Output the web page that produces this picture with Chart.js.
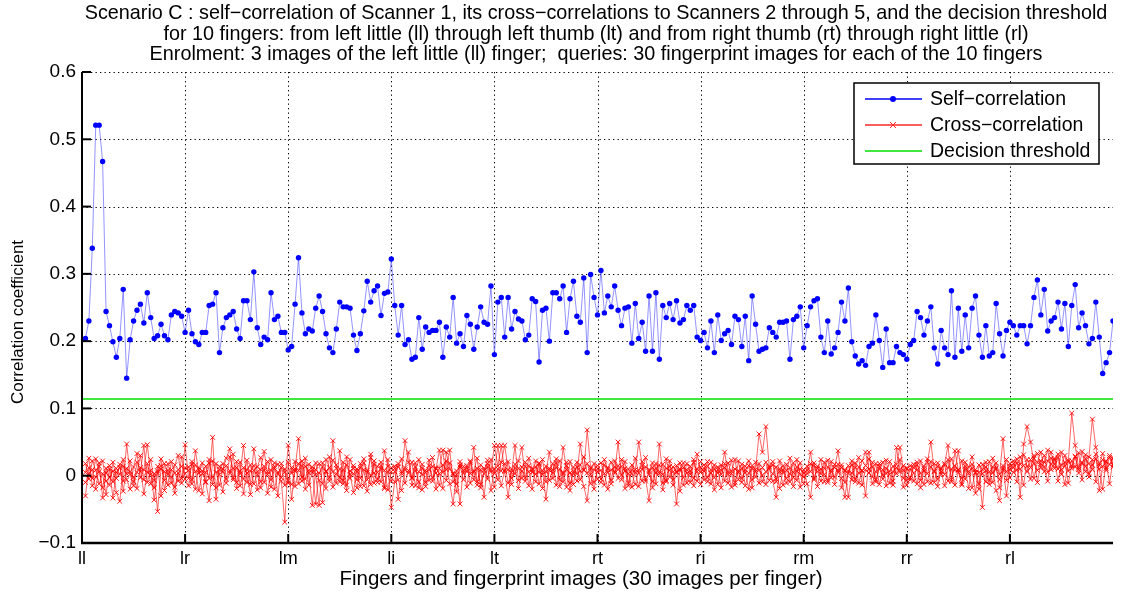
<!DOCTYPE html>
<html>
<head>
<meta charset="utf-8">
<title>Scenario C correlations</title>
<script src="https://cdn.jsdelivr.net/npm/chart.js@4.4.1/dist/chart.umd.min.js"></script>
<style>
  html, body { margin: 0; padding: 0; background: #fff; }
  #wrap { width: 1131px; height: 600px; }
</style>
</head>
<body>
<div id="wrap"><canvas id="c" width="1131" height="600"></canvas></div>
<script>
// Finger labels, one every 30 images
const fingerLabels = ['ll', 'lr', 'lm', 'li', 'lt', 'rt', 'ri', 'rm', 'rr', 'rl'];
const imagesPerFinger = 30;

// All correlation values below are in units of 0.001
const selfCorr = [
  204,230,338,521,521,467,244,223,199,176,204,277,145,202,230,246,255,227,272,235,204,208,225,208,202,239,244,242,237,213,
  246,211,199,195,213,213,253,255,272,183,220,235,239,244,218,204,260,260,232,303,220,195,206,202,272,232,237,213,213,187,
  192,255,324,242,211,218,215,249,267,244,211,190,183,218,258,251,251,249,209,186,211,245,289,258,275,282,238,271,273,322,
  253,209,253,195,202,173,176,235,188,221,213,216,216,228,176,221,206,265,197,211,192,238,225,188,221,251,228,225,282,180,
  258,265,206,265,218,244,233,230,202,209,263,259,169,246,249,200,272,272,263,282,213,263,289,237,228,294,183,299,265,239,
  305,242,267,251,282,246,223,249,251,197,256,204,228,185,267,185,272,173,253,235,256,232,260,227,232,253,246,253,206,201,
  213,190,230,183,239,201,211,216,195,237,232,192,237,171,267,225,185,188,190,220,213,206,228,228,230,173,232,237,251,190,
  223,251,260,263,206,183,230,181,190,213,258,230,279,199,178,166,171,164,192,197,239,201,161,218,168,168,192,183,180,173,
  195,201,244,235,209,230,251,190,166,216,190,180,275,176,249,185,239,190,249,267,209,176,223,178,183,256,211,178,216,228,
  223,209,223,223,196,223,265,291,239,277,215,230,235,258,218,256,192,253,284,220,242,223,196,204,258,206,152,168,183,230
];

const crossScanner2 = [
  18,-5,22,8,-12,3,-28,10,-33,5,12,-8,47,2,-15,20,6,45,-10,8,-36,4,15,-7,18,-2,-26,9,14,3,
  8,-12,37,4,19,-9,-37,22,5,-14,10,26,40,-6,12,3,45,-10,7,15,-21,9,36,2,-17,11,5,-8,-69,20,
  -35,10,55,-8,14,4,-44,9,18,-12,6,-3,52,11,-9,20,-14,7,3,-18,12,25,-6,32,4,-10,15,8,-21,6,
  11,-35,6,52,20,-4,13,-9,-21,8,15,-3,10,38,5,22,-12,-42,7,16,-6,12,3,42,-14,9,-32,18,6,45,
  14,45,6,-32,10,3,22,42,-8,15,5,22,-12,8,-35,11,4,19,-6,42,9,-22,13,3,47,8,68,12,-10,6,
  8,-14,12,20,4,50,-6,11,3,-17,9,50,15,-8,6,19,-12,47,2,-9,14,6,-42,10,-3,18,7,-15,32,5,
  11,-9,4,16,-13,8,35,2,-17,10,5,-10,14,22,-6,9,62,35,73,12,-8,-32,6,15,-11,3,19,-7,10,4,
  8,35,-6,14,3,20,-10,9,12,37,-4,-32,7,16,-9,4,22,35,10,-12,6,18,-5,11,2,-14,42,9,15,-7,
  10,-8,16,4,-13,20,50,7,-5,12,18,45,-9,37,8,-12,14,3,-18,9,5,-47,13,6,-10,19,2,55,-7,14,
  12,25,-32,47,73,50,18,8,22,30,5,17,26,10,35,14,21,93,45,12,20,6,28,84,42,15,24,11,27,16
];

const crossScanner3 = [
  -30,12,-4,25,6,-18,11,-3,7,-25,-38,14,3,22,-9,5,30,-6,18,-12,3,-53,10,6,-14,21,4,-8,28,-5,
  -15,21,6,-22,3,14,-4,57,-35,9,18,-11,4,32,-19,7,-5,23,-13,40,6,-9,14,-26,8,19,17,-3,10,-7,
  12,-16,8,22,-5,17,9,-42,4,13,-19,28,6,-11,37,-7,16,2,-25,10,-4,19,8,-13,22,5,-9,37,14,-47,
  -9,18,3,12,35,-14,7,24,2,-16,9,14,-20,11,38,-7,19,4,-24,13,8,-17,22,5,-9,16,11,-5,24,3,
  45,7,18,-11,5,45,-7,13,20,-15,9,2,17,-19,6,35,-4,12,22,-9,15,4,-13,20,7,-16,-37,10,18,-5,
  -10,16,5,-7,22,9,14,-19,10,3,-13,8,21,-5,-37,12,4,16,-11,25,-2,13,6,19,-14,9,2,24,-8,13,
  -6,14,20,-3,9,-18,12,5,23,-10,7,17,-15,4,11,-2,18,-9,6,14,21,-5,10,-14,8,26,-3,13,-17,9,
  -12,-32,15,6,-8,11,23,-3,17,5,12,9,-32,4,19,-11,8,-30,25,13,-6,10,20,-15,7,14,3,24,-4,12,
  -6,17,9,-18,11,3,21,-10,14,6,-15,12,25,8,37,-4,10,-19,17,5,-12,9,20,-7,13,-22,-37,11,6,18,
  22,8,17,31,14,-5,26,33,12,20,38,9,24,-8,16,30,7,22,13,34,-6,25,18,9,32,-22,14,20,-12,25
];

const crossScanner4 = [
  5,26,-15,-2,19,-33,4,15,-9,11,2,24,-6,-20,13,33,-3,9,46,2,-18,7,25,-22,8,-11,16,30,-4,12,
  13,-6,16,9,-27,5,24,-13,18,2,-24,15,7,-3,21,-15,12,4,-28,8,13,27,-10,6,24,-20,3,12,-14,45,
  4,21,-12,15,-20,8,13,2,-44,19,7,-8,23,16,-3,9,-22,24,11,-6,18,-15,5,27,-11,14,20,-17,6,12,
  14,-6,-22,9,4,20,-15,6,17,-10,23,-8,12,3,-19,35,10,2,-13,21,4,15,-11,7,26,-18,8,13,-22,10,
  -6,20,45,9,-13,17,11,-4,14,6,-20,13,5,24,-9,8,18,-14,10,3,-17,21,6,-8,16,28,4,-12,9,15,
  19,3,-20,9,13,-4,24,7,-11,16,5,-16,10,27,2,-9,18,6,-21,11,8,-6,15,-23,12,4,-10,20,6,-13,
  7,21,-12,10,4,16,-8,19,3,-14,22,-4,9,-20,15,6,-11,12,20,-7,3,13,-19,8,17,-9,5,24,2,-12,
  14,6,19,-16,10,2,-7,21,-13,8,16,-10,4,22,-5,13,7,15,35,-2,18,-13,9,3,21,-8,12,6,-17,10,
  15,4,-12,22,7,-9,13,18,-16,10,2,24,-6,15,9,-14,20,6,11,-26,16,3,-9,21,4,12,-18,8,24,-3,
  5,19,10,-14,24,12,30,-10,18,6,22,35,11,27,2,20,-11,15,28,9,36,14,3,24,-9,18,33,8,17,27
];

const crossScanner5 = [
  -10,3,9,-20,14,22,-8,-14,20,-4,17,-23,11,6,-2,-19,12,-27,5,24,-7,14,-30,18,2,9,-17,4,-11,46,
  -4,17,-20,12,7,-10,19,-2,-18,14,6,-5,28,11,-10,20,-27,9,16,-12,2,-18,8,21,-6,14,-30,18,5,-11,
  -13,7,18,-2,26,-14,5,19,-7,-40,24,12,-17,3,10,-12,28,-4,15,6,-16,9,-23,1,17,-5,11,-19,24,-8,
  6,13,25,-11,8,-3,19,-18,11,5,-7,27,4,-14,16,9,38,-9,2,-42,14,6,20,-6,11,-13,3,23,9,-17,
  10,-15,8,21,-4,12,-19,7,-3,26,11,-9,19,2,14,-7,9,25,-16,5,20,-11,3,13,-6,9,18,2,-20,11,
  -5,24,10,-12,6,15,1,21,-15,8,26,4,-8,13,9,-18,11,3,17,-7,22,-14,5,8,19,-11,14,-4,10,21,
  16,-3,9,-21,13,2,18,-11,7,24,-6,11,4,15,-18,20,8,1,-13,10,16,-9,22,5,-4,12,-16,7,19,-2,
  3,18,-4,11,24,-9,13,6,-2,17,-18,7,15,-6,12,27,-14,9,4,20,-9,14,1,23,-11,6,17,42,8,-14,
  -3,12,20,-7,14,25,-11,6,19,2,16,-8,10,-14,5,22,-5,13,28,4,-20,17,7,-13,26,10,-6,15,-30,9,
  18,-9,28,15,6,24,-4,20,35,13,-8,26,17,32,9,-13,23,11,29,4,18,31,-2,16,25,10,-20,22,30,13
];

const decisionThreshold = 114;
const yTickValues = [-0.1, 0, 0.1, 0.2, 0.3, 0.4, 0.5, 0.6];

const titleLines = [
  'Scenario C : self\u2212correlation of Scanner 1, its cross\u2212correlations to Scanners 2 through 5, and the decision threshold',
  'for 10 fingers: from left little (ll) through left thumb (lt) and from right thumb (rt) through right little (rl)',
  'Enrolment: 3 images of the left little (ll) finger;  queries: 30 fingerprint images for each of the 10 fingers'
];
const xTitle = 'Fingers and fingerprint images (30 images per finger)';
const yTitle = 'Correlation coefficient';
const legendItems = ['Self\u2212correlation', 'Cross\u2212correlation', 'Decision threshold'];

const FONT = '"Liberation Sans", Arial, Helvetica, sans-serif';
const nImages = fingerLabels.length * imagesPerFinger;

const toPoints = arr => arr.map((v, i) => ({ x: i + 1, y: v / 1000 }));

const BLUE = 'rgb(0,0,255)';
const BLUE_LINE = 'rgba(60,60,255,0.55)';
const RED = 'rgba(255,0,0,0.9)';
const RED_LINE = 'rgba(255,0,0,0.6)';
const GREEN = 'rgb(0,225,0)';

function crossDataset(arr) {
  return {
    label: 'cross',
    data: toPoints(arr),
    borderColor: RED_LINE,
    borderWidth: 1,
    pointStyle: 'crossRot',
    pointRadius: 3.4,
    pointBorderColor: RED,
    pointBackgroundColor: RED,
    pointBorderWidth: 1,
    tension: 0
  };
}

// Dotted grid, inward tick marks, axes, titles and the legend box
const decorations = {
  id: 'decorations',
  beforeDatasetsDraw(chart) {
    const { ctx, chartArea: a, scales: { x, y } } = chart;
    ctx.save();
    ctx.strokeStyle = '#000';
    ctx.lineWidth = 1;
    ctx.setLineDash([1.3, 3.2]);
    yTickValues.forEach(v => {
      if (v <= -0.1) return;
      const py = Math.round(y.getPixelForValue(v)) + 0.5;
      ctx.beginPath(); ctx.moveTo(a.left, py); ctx.lineTo(a.right, py); ctx.stroke();
    });
    fingerLabels.forEach((_, i) => {
      if (i === 0) return;
      const px = Math.round(x.getPixelForValue(i * imagesPerFinger)) + 0.5;
      ctx.beginPath(); ctx.moveTo(px, a.top); ctx.lineTo(px, a.bottom); ctx.stroke();
    });
    ctx.restore();
  },
  afterDraw(chart) {
    const { ctx, chartArea: a, scales: { x, y } } = chart;
    ctx.save();
    // axes
    ctx.strokeStyle = '#000';
    ctx.lineWidth = 2;
    ctx.beginPath();
    ctx.moveTo(a.left, a.top); ctx.lineTo(a.left, a.bottom + 1);
    ctx.stroke();
    ctx.lineWidth = 2.5;
    ctx.beginPath();
    ctx.moveTo(a.left - 1, a.bottom); ctx.lineTo(a.right, a.bottom);
    ctx.stroke();
    // inward tick marks
    ctx.lineWidth = 2;
    yTickValues.forEach(v => {
      const py = y.getPixelForValue(v);
      ctx.beginPath(); ctx.moveTo(a.left, py); ctx.lineTo(a.left + 9, py); ctx.stroke();
    });
    fingerLabels.forEach((_, i) => {
      const px = x.getPixelForValue(i * imagesPerFinger);
      ctx.beginPath(); ctx.moveTo(px, a.bottom); ctx.lineTo(px, a.bottom - 9); ctx.stroke();
    });

    // title
    ctx.fillStyle = '#000';
    ctx.font = '19.8px ' + FONT;
    ctx.textAlign = 'center';
    ctx.textBaseline = 'middle';
    const tops = [14, 35, 55];
    titleLines.forEach((t, i) => ctx.fillText(t, 596, tops[i]));

    // axis titles
    ctx.font = '20.5px ' + FONT;
    ctx.fillText(xTitle, 581, 579);
    ctx.save();
    ctx.translate(18, 322);
    ctx.rotate(-Math.PI / 2);
    ctx.font = '17px ' + FONT;
    ctx.fillText(yTitle, 0, 0);
    ctx.restore();

    // legend
    const bx = 854, by = 83, bw = 245, bh = 81;
    ctx.fillStyle = '#fff';
    ctx.fillRect(bx, by, bw, bh);
    ctx.strokeStyle = '#000';
    ctx.lineWidth = 1.5;
    ctx.strokeRect(bx, by, bw, bh);
    const rows = [99, 125, 151];
    const colors = [BLUE, 'rgb(255,40,40)', GREEN];
    rows.forEach((ry, i) => {
      ctx.strokeStyle = colors[i];
      ctx.lineWidth = 1.3;
      ctx.beginPath(); ctx.moveTo(865, ry); ctx.lineTo(922, ry); ctx.stroke();
      if (i === 0) {
        ctx.fillStyle = BLUE;
        ctx.beginPath(); ctx.arc(893, ry, 3, 0, Math.PI * 2); ctx.fill();
      } else if (i === 1) {
        ctx.lineWidth = 1;
        ctx.beginPath();
        ctx.moveTo(890, ry - 3); ctx.lineTo(896, ry + 3);
        ctx.moveTo(896, ry - 3); ctx.lineTo(890, ry + 3);
        ctx.stroke();
      }
      ctx.fillStyle = '#000';
      ctx.font = '19.5px ' + FONT;
      ctx.textAlign = 'left';
      ctx.fillText(legendItems[i], 930, ry + 1);
    });
    ctx.restore();
  }
};

const chart = new Chart(document.getElementById('c'), {
  type: 'line',
  data: {
    datasets: [
      crossDataset(crossScanner2),
      crossDataset(crossScanner3),
      crossDataset(crossScanner4),
      crossDataset(crossScanner5),
      {
        label: 'threshold',
        data: [{ x: 0, y: decisionThreshold / 1000 }, { x: nImages, y: decisionThreshold / 1000 }],
        borderColor: GREEN,
        borderWidth: 1.3,
        pointRadius: 0
      },
      {
        label: 'self',
        data: toPoints(selfCorr),
        borderColor: BLUE_LINE,
        borderWidth: 1,
        pointStyle: 'circle',
        pointRadius: 2.7,
        pointBackgroundColor: BLUE,
        pointBorderColor: BLUE,
        pointBorderWidth: 0,
        tension: 0
      }
    ]
  },
  options: {
    responsive: false,
    animation: false,
    events: [],
    layout: { padding: { left: 0, right: 18, top: 72, bottom: 0 } },
    plugins: { legend: { display: false }, title: { display: false }, tooltip: { enabled: false } },
    scales: {
      x: {
        type: 'linear',
        min: 0,
        max: nImages,
        grid: { display: false, drawTicks: false },
        border: { display: false },
        afterBuildTicks: s => { s.ticks = fingerLabels.map((_, i) => ({ value: i * imagesPerFinger })); },
        afterFit: s => { s.height = 57; },
        ticks: {
          autoSkip: false,
          maxRotation: 0,
          padding: 5,
          color: '#000',
          font: { family: FONT, size: 18 },
          callback: v => fingerLabels[Math.round(v / imagesPerFinger)]
        }
      },
      y: {
        min: -0.1,
        max: 0.6,
        grid: { display: false, drawTicks: false },
        border: { display: false },
        afterBuildTicks: s => { s.ticks = yTickValues.map(v => ({ value: v })); },
        afterFit: s => { s.width = 82; },
        ticks: {
          padding: 6,
          color: '#000',
          font: { family: FONT, size: 19 },
          callback: v => {
            const r = Math.round(v * 10) / 10;
            if (r === 0) return '0';
            return (r < 0 ? '\u2212' : '') + Math.abs(r).toFixed(1);
          }
        }
      }
    }
  },
  plugins: [decorations]
});
</script>
</body>
</html>
